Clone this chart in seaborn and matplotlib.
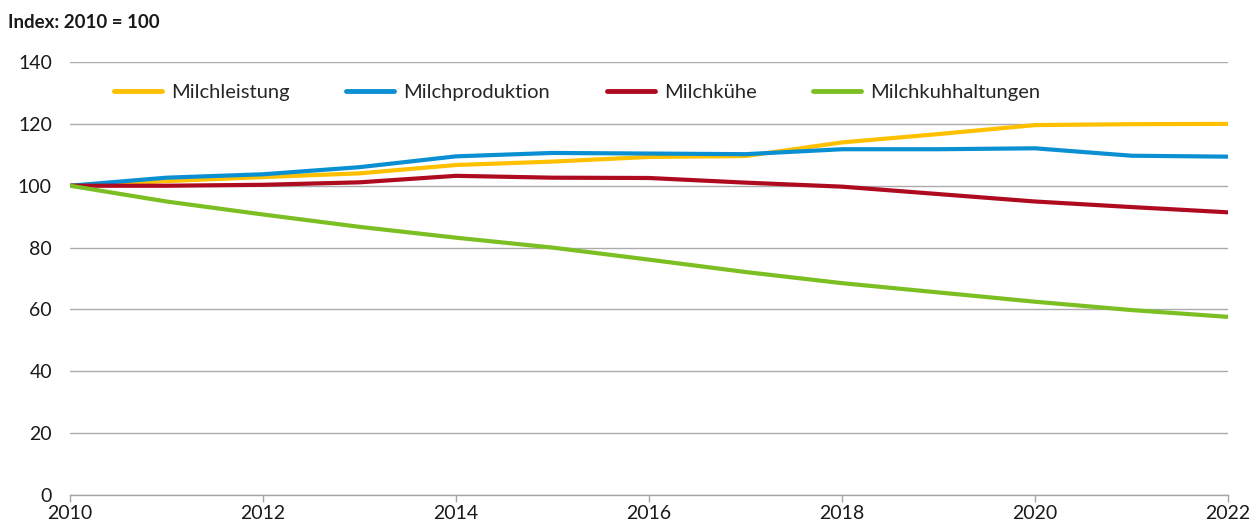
"""Milch index chart: Milchleistung, Milchproduktion, Milchkühe, Milchkuhhaltungen (2010 = 100)."""

import matplotlib

matplotlib.use("Agg")
import matplotlib.pyplot as plt
import pandas as pd
import seaborn as sns

years = list(range(2010, 2023))
milchleistung = [100, 101.5, 102.8, 104.0, 106.7, 107.8, 109.3, 109.6, 114.0, 116.7, 119.6, 119.9, 120.0]
milchproduktion = [100, 102.6, 103.7, 106.0, 109.5, 110.6, 110.4, 110.2, 111.8, 111.8, 112.1, 109.7, 109.4]
milchkuehe = [100, 100.0, 100.3, 101.1, 103.2, 102.6, 102.5, 101.0, 99.7, 97.3, 94.9, 93.1, 91.4]
milchkuhhaltungen = [100, 94.9, 90.7, 86.7, 83.2, 80.0, 76.1, 72.1, 68.5, 65.5, 62.5, 59.8, 57.6]

series_names = ["Milchleistung", "Milchproduktion", "Milchkühe", "Milchkuhhaltungen"]
series_colors = ["#FFC000", "#0A8FD2", "#AF0B20", "#7BBF22"]
y_ticks = [0, 20, 40, 60, 80, 100, 120, 140]
x_ticks = list(range(2010, 2023, 2))

df = pd.DataFrame({
    "Jahr": years * 4,
    "Index": milchleistung + milchproduktion + milchkuehe + milchkuhhaltungen,
    "Reihe": [n for n in series_names for _ in years],
})

sns.set_theme(style="white")
plt.rcParams["font.family"] = ["Lato", "DejaVu Sans"]

fig, ax = plt.subplots(figsize=(12.5, 5.3), dpi=100)
fig.subplots_adjust(left=0.056, right=0.9824, top=0.883, bottom=0.066)

sns.lineplot(
    data=df, x="Jahr", y="Index", hue="Reihe", hue_order=series_names,
    palette=dict(zip(series_names, series_colors)), linewidth=3,
    ax=ax, zorder=3,
)
for line in ax.get_lines():
    line.set_solid_capstyle("round")

ax.set_xlim(2010, 2022)
ax.set_ylim(0, 140)
ax.set_yticks(y_ticks)
ax.set_xticks(x_ticks)
ax.set_xlabel("")
ax.set_ylabel("")
ax.yaxis.grid(True, color="#ABABAB", linewidth=1)
ax.xaxis.grid(False)
for side in ["top", "right", "left"]:
    ax.spines[side].set_visible(False)
ax.spines["bottom"].set_color("#A6A6A6")
ax.spines["bottom"].set_linewidth(1)
ax.tick_params(axis="y", length=0, pad=13, labelsize=14, labelcolor="#1a1a1a")
ax.tick_params(axis="x", bottom=True, length=5, width=1, color="#A6A6A6",
               direction="out", pad=2, labelsize=14, labelcolor="#1a1a1a")

handles, labels = ax.get_legend_handles_labels()
leg = ax.legend(
    handles, labels, loc="upper left", bbox_to_anchor=(0.022, 0.992), ncol=4,
    frameon=False, fontsize=14.5, handlelength=2.4, handletextpad=0.45,
    columnspacing=2.8,
)
for h in leg.get_lines():
    h.set_linewidth(3.5)
    h.set_solid_capstyle("round")

fig.text(0.0064, 1 - 22 / 530, "Index: 2010 = 100", fontsize=13.5,
         fontweight="bold", va="center", ha="left", color="#1a1a1a")

fig.savefig("out.png", dpi=100)
